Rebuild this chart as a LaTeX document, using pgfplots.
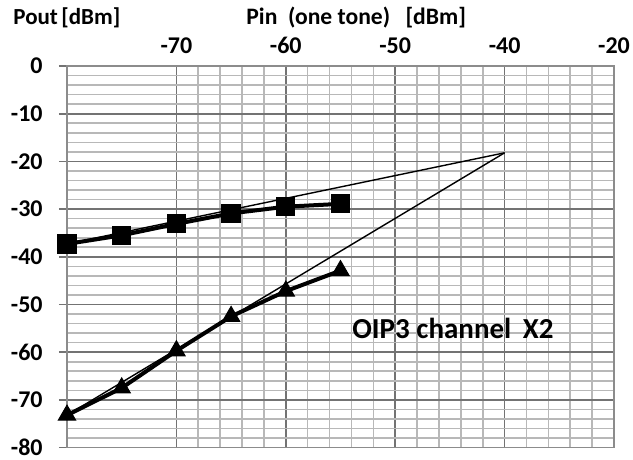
\documentclass[border=0pt]{standalone}
\usepackage{fontspec}
\setmainfont{Carlito}
\usepackage{pgfplots}
\pgfplotsset{compat=1.18}
\begin{document}
\begin{tikzpicture}
\path[use as bounding box] (-33.5pt,-5pt) rectangle (283pt,225pt);
\begin{axis}[
  at={(0,1.2pt)}, anchor=south west,
  scale only axis, width=273.5pt, height=190.8pt,
  xmin=-80, xmax=-30, ymin=-80, ymax=0,
  xtick={-70,-60,-50,-40,-30}, xticklabels={-70,-60,-50,-40,-20},
  ytick={-80,-70,...,0},
  minor x tick num=4, minor y tick num=4,
  xtick pos=top, ytick pos=left, xticklabel pos=top,
  grid=both,
  major grid style={line width=0.8pt, color=black!55},
  minor grid style={line width=0.8pt, color=black!28},
  axis line style={line width=0.8pt, color=black!45},
  xtick style={draw=none}, minor tick style={draw=none},
  ytick style={line width=0.8pt, color=black!55},
  tick align=outside, major tick length=4pt,
  /pgf/number format/assume math mode=true,
  tick label style={font=\bfseries\fontsize{12}{14}\selectfont},
  yticklabel style={inner sep=0pt, xshift=-8pt},
  xticklabel style={inner sep=0pt, yshift=2pt},
  clip=false,
]
\addplot[black, line width=0.7pt] coordinates {(-80,-37.3) (-40,-18.2)};
\addplot[black, line width=0.7pt] coordinates {(-80,-73.2) (-40,-18.2)};
\addplot[black, line width=2pt, mark=square*, mark size=3.8pt] coordinates {
  (-80,-37.3) (-75,-35.5) (-70,-33.1) (-65,-30.9) (-60,-29.5) (-55,-28.9)};
\addplot[black, line width=2pt, mark=triangle*, mark size=5pt, mark options={line width=0.5pt}] coordinates {
  (-80,-73.2) (-75,-67.5) (-70,-59.7) (-65,-52.5) (-60,-47.2) (-55,-42.9)};
\node[anchor=west, inner sep=0pt, font=\bfseries\fontsize{14.5}{17}\selectfont] at (axis cs:-53.95,-55) {OIP3 channel\hspace{0.4em}X2};
\end{axis}
\node[anchor=west, font=\bfseries\fontsize{11.5}{13}\selectfont, inner sep=0pt] at (-27pt,216pt) {Pout\hspace{0.15em}[dBm]};
\node[anchor=west, font=\bfseries\fontsize{11.8}{14}\selectfont, inner sep=0pt] at (89.5pt,216pt) {Pin\hspace{0.45em}(one tone)\hspace{0.65em}[dBm]};
\end{tikzpicture}
\end{document}
